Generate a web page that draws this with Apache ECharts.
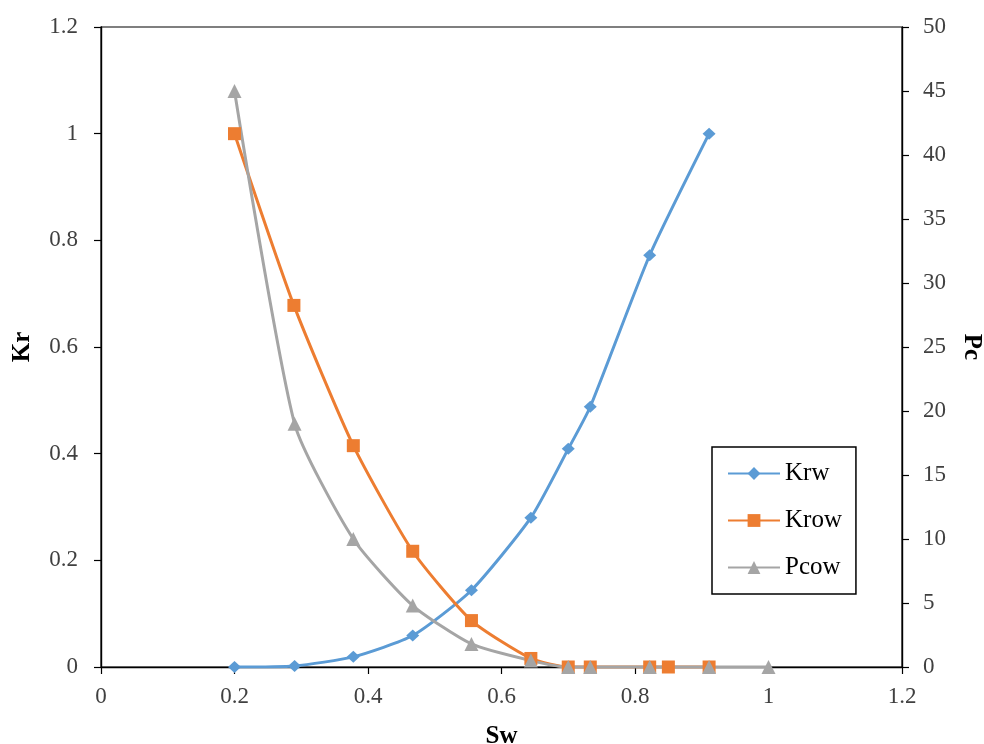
<!DOCTYPE html>
<html>
<head>
<meta charset="utf-8">
<script src="https://cdn.jsdelivr.net/npm/echarts@6/dist/echarts.min.js"></script>
<style>
    html, body { margin: 0; padding: 0; background: #fff; }
    #main { width: 984px; height: 744px; }
</style>
</head>
<body>
<div id="main"></div>
<script>
    // Sw values for each curve (they do not all share the same points)
    var swKrw = [0.2, 0.29, 0.378, 0.467, 0.555, 0.644, 0.7, 0.733, 0.822, 0.911];
    var krw = [0, 0.002, 0.019, 0.059, 0.144, 0.28, 0.409, 0.488, 0.772, 1.0];

    var swKrow = [0.2, 0.289, 0.378, 0.467, 0.555, 0.644, 0.7, 0.733, 0.822, 0.85, 0.911];
    var krow = [1.0, 0.678, 0.415, 0.217, 0.087, 0.016, 0, 0, 0, 0, 0];

    var swPcow = [0.2, 0.29, 0.378, 0.467, 0.555, 0.644, 0.7, 0.733, 0.822, 0.911, 1.0];
    var pcow = [45, 19, 10, 4.8, 1.8, 0.5, 0, 0, 0, 0, 0];

    function pairs(xs, ys) {
        return xs.map(function (x, i) { return [x, ys[i]]; });
    }

    var font = '"Liberation Serif", "Times New Roman", serif';
    var labelColor = '#404040';
    var titleStyle = {fontFamily: font, fontSize: 25, fontWeight: 'bold', color: '#000'};

    var dom = document.getElementById('main');
    var myChart = echarts.init(dom);
    var option = {
        animation: false,
        color: ['#5B9BD5', '#ED7D31', '#A5A5A5'],
        grid: {
            left: 101,
            right: 82,
            top: 27,
            bottom: 77,
            outerBoundsMode: 'none',
            show: true,
            borderColor: '#000',
            borderWidth: 1.2
        },
        legend: {
            orient: 'vertical',
            left: 712,
            top: 447,
            padding: [14, 14, 14, 15],
            itemWidth: 52,
            itemHeight: 16,
            itemGap: 22,
            borderColor: '#000',
            borderWidth: 1.5,
            backgroundColor: '#fff',
            textStyle: {
                fontFamily: font,
                fontSize: 25,
                lineHeight: 25,
                color: '#000'
            },
            data: ['Krw', 'Krow', 'Pcow']
        },
        xAxis: {
            type: 'value',
            min: 0,
            max: 1.2,
            interval: 0.2,
            name: 'Sw',
            nameLocation: 'middle',
            nameGap: 57,
            nameTextStyle: titleStyle,
            axisLine: {lineStyle: {color: '#000', width: 1.4}},
            axisTick: {show: true, inside: false, length: 7, lineStyle: {color: '#000', width: 1.2}},
            axisLabel: {fontFamily: font, fontSize: 23, color: labelColor, margin: 18},
            splitLine: {show: false}
        },
        yAxis: [
            {
                type: 'value',
                min: 0,
                max: 1.2,
                interval: 0.2,
                name: 'Kr',
                nameLocation: 'middle',
                nameRotate: 90,
                nameGap: 66,
                nameTextStyle: titleStyle,
                axisLine: {show: true, lineStyle: {color: '#000', width: 1.4}},
                axisTick: {show: true, length: 7, lineStyle: {color: '#000', width: 1.2}},
                axisLabel: {fontFamily: font, fontSize: 23, color: labelColor, margin: 23},
                splitLine: {show: false}
            },
            {
                type: 'value',
                min: 0,
                max: 50,
                interval: 5,
                position: 'right',
                name: 'Pc',
                nameLocation: 'middle',
                nameRotate: -90,
                nameGap: 57,
                nameTextStyle: titleStyle,
                axisLine: {show: true, lineStyle: {color: '#000', width: 1.4}},
                axisTick: {show: true, length: 7, lineStyle: {color: '#000', width: 1.2}},
                axisLabel: {fontFamily: font, fontSize: 23, color: labelColor, margin: 21},
                splitLine: {show: false}
            }
        ],
        series: [
            {
                name: 'Krw',
                type: 'line',
                smooth: 0.2,
                symbol: 'diamond',
                symbolSize: [13, 12],
                lineStyle: {width: 3},
                data: pairs(swKrw, krw)
            },
            {
                name: 'Krow',
                type: 'line',
                smooth: 0.2,
                symbol: 'rect',
                symbolSize: 13,
                lineStyle: {width: 3},
                data: pairs(swKrow, krow)
            },
            {
                name: 'Pcow',
                type: 'line',
                smooth: 0.2,
                yAxisIndex: 1,
                symbol: 'triangle',
                symbolSize: 14,
                lineStyle: {width: 3},
                data: pairs(swPcow, pcow)
            }
        ]
    };
    myChart.setOption(option, true);
</script>
</body>
</html>
